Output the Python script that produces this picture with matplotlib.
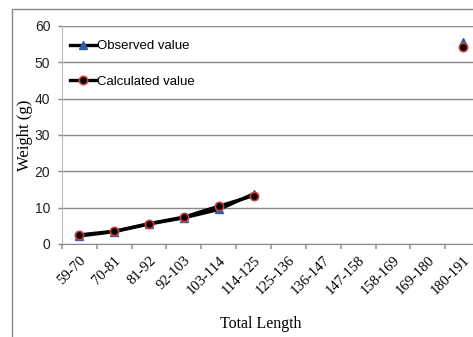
import matplotlib.pyplot as plt
import matplotlib.patches as patches
import numpy as np

length_class = ['59-70', '70-81', '81-92', '92-103', '103-114', '114-125',
                '125-136', '136-147', '147-158', '158-169', '169-180', '180-191']
observed = [2.2, 3.4, 5.5, 7.2, 9.5, 13.8, np.nan, np.nan, np.nan, np.nan, np.nan, 55.6]
calculated = [2.5, 3.5, 5.6, 7.4, 10.4, 13.3, np.nan, np.nan, np.nan, np.nan, np.nan, 54.2]

fig = plt.figure(figsize=(4.73, 3.37), dpi=100)
# plot area runs past the right edge, like the cropped original
ax = fig.add_axes([0.131, 0.276, 0.884, 0.647])

# outer chart frame
fig.patches.append(patches.Rectangle((0.026, -0.05), 1.2, 1.023, transform=fig.transFigure,
                                     fill=False, edgecolor='#888888', linewidth=1.0))

x = np.arange(len(length_class))
ax.plot(x, observed, color='black', linewidth=2.4, marker='^', markersize=6,
        markerfacecolor='#2e5fa8', markeredgecolor='#2e5fa8', label='Observed value', zorder=3)
ax.plot(x, calculated, color='black', linewidth=2.4, marker='o', markersize=6,
        markerfacecolor='black', markeredgecolor='#d04040', markeredgewidth=1.2,
        label='Calculated value', zorder=4)

ax.set_xlim(-0.5, len(length_class) - 0.5)
ax.set_ylim(0, 60)
ax.set_yticks(range(0, 61, 10))
ax.yaxis.grid(True, color='#888888', linewidth=1.0)
ax.set_axisbelow(True)

ax.set_xticks(x)
ax.set_xticklabels(length_class, rotation=45, ha='right', rotation_mode='anchor',
                   family='Liberation Serif', fontsize=10.5)
ax.set_xticks(np.arange(-0.5, len(length_class), 1), minor=True)
ax.tick_params(axis='x', which='major', length=0, pad=7)
ax.tick_params(axis='x', which='minor', length=3.6, color='#aaaaaa', width=1.5)
ax.tick_params(axis='y', length=2.9, color='#888888', width=1.0, pad=5.5, labelsize=10)
for lab in ax.get_yticklabels():
    lab.set_family('Liberation Sans')
    lab.set_color('#222222')

for s in ['top', 'right']:
    ax.spines[s].set_visible(False)
ax.spines['left'].set_color('#bbbbbb')
ax.spines['bottom'].set_color('#888888')

ax.set_ylabel('Weight (g)', family='Liberation Serif', fontsize=12)
ax.yaxis.set_label_coords(-0.069, 0.5)
ax.set_xlabel('Total Length', family='Liberation Serif', fontsize=11.5)
ax.xaxis.set_label_coords(0.475, -0.33)

ax.legend(loc='upper left', bbox_to_anchor=(-0.01, 0.99), frameon=False,
          prop={'family': 'Liberation Sans', 'size': 9.5},
          labelspacing=1.75, handlelength=2.0, handletextpad=0.1)

fig.savefig('out.png', dpi=100)
